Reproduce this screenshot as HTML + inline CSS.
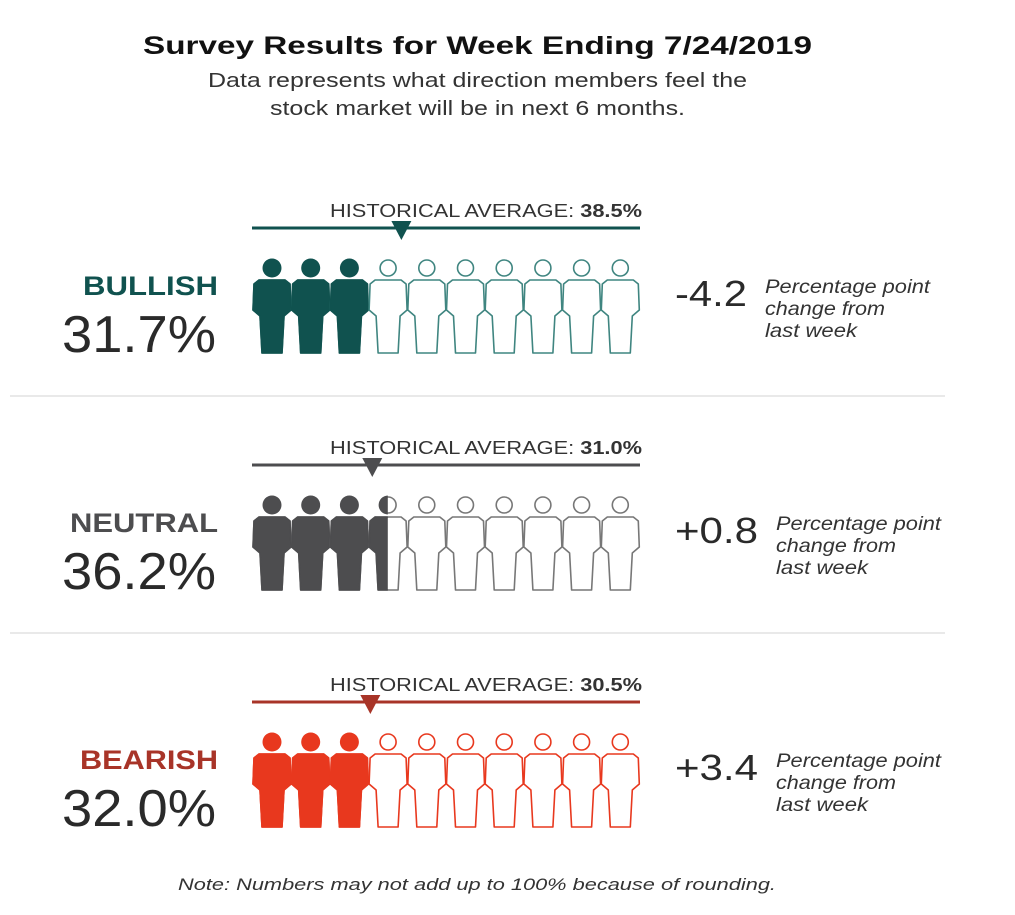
<!DOCTYPE html>
<html><head><meta charset="utf-8"><style>
html,body{margin:0;padding:0;background:#fff;}
svg{display:block;font-family:"Liberation Sans",Arial,sans-serif;}
</style></head><body>
<svg id="chart" width="1015" height="915" viewBox="0 0 1015 915">
<text x="143" y="54" textLength="669" lengthAdjust="spacingAndGlyphs" font-size="25" font-weight="bold" fill="#111">Survey Results for Week Ending 7/24/2019</text>
<text x="208" y="87" textLength="539" lengthAdjust="spacingAndGlyphs" font-size="20" fill="#333">Data represents what direction members feel the</text>
<text x="270" y="115" textLength="415" lengthAdjust="spacingAndGlyphs" font-size="20" fill="#333">stock market will be in next 6 months.</text>
<line x1="10" y1="396" x2="945" y2="396" stroke="#e2e2e2" stroke-width="1.5"/>
<line x1="10" y1="633" x2="945" y2="633" stroke="#e2e2e2" stroke-width="1.5"/>
<text x="178" y="890" textLength="598" lengthAdjust="spacingAndGlyphs" font-size="17" font-style="italic" fill="#333">Note: Numbers may not add up to 100% because of rounding.</text>
<g id="rows"></g>
</svg>
<script>
const categories = ["BULLISH","NEUTRAL","BEARISH"];
const percentValues = [31.7, 36.2, 32.0];
const historicalAverages = [38.5, 31.0, 30.5];
const weeklyChanges = ["-4.2", "+0.8", "+3.4"];
const fillColors = ["#10524f","#4d4d4f","#e8381e"];
const labelColors = ["#10524f","#4d4d4f","#a83428"];
const outlineColors = ["#3f8580","#777","#e8381e"];

const NS="http://www.w3.org/2000/svg";
const root=document.getElementById('rows');
const x0=252, x1=640, figCount=10;
const xScale=v=>x0+(v/100)*(x1-x0);
const labelStart=[83,70,80];
const changeX=[675,675,675];
const changeW=[72,83,83];
const capX=[765,776,776];
const capW=[165,120,92];
function mk(tag,attrs,parent){const e=document.createElementNS(NS,tag);for(const k in attrs)e.setAttribute(k,attrs[k]);(parent||root).appendChild(e);return e;}
function personPath(cx,hy){
  const p=[[-13,12],[13,12],[18,16],[19,42],[12,48],[10,85],[-10,85],[-12,48],[-19,42],[-18,16]];
  return "M"+p.map(q=>(cx+q[0])+","+(hy+q[1])).join(" L")+" Z";
}
categories.forEach((cat,i)=>{
  const oy=i*237;
  const g=mk('g',{});
  
  
  const lbl=mk('text',{x:labelStart[i],y:295+oy,textLength:218-labelStart[i],lengthAdjust:'spacingAndGlyphs','font-size':27,'font-weight':'bold',fill:labelColors[i]},g);
  lbl.textContent=cat;
  
  
  const pct=mk('text',{x:62,y:352+oy,textLength:154,lengthAdjust:'spacingAndGlyphs','font-size':52,fill:'#2a2a2a'},g);
  pct.textContent=percentValues[i].toFixed(1)+'%';
  
  
  const ha=mk('text',{x:330,y:217+oy,textLength:312,lengthAdjust:'spacingAndGlyphs','font-size':18,fill:'#333'},g);
  ha.innerHTML='HISTORICAL AVERAGE: <tspan font-weight="bold">'+historicalAverages[i].toFixed(1)+'%</tspan>';
  
  
  const ln=mk('line',{x1:x0,y1:228+oy,x2:x1,y2:228+oy,stroke:labelColors[i],'stroke-width':3},g);
  
  
  const mx=xScale(historicalAverages[i]);
  const tri=mk('path',{d:`M${mx-10},${221+oy} L${mx+10},${221+oy} L${mx},${240+oy} Z`,fill:labelColors[i]},g);
  
  
  const filled=Math.round(percentValues[i]/10*2)/2;
  const clipId='clip'+i;
  const cp=mk('clipPath',{id:clipId},g);
  mk('rect',{x:x0,y:250+oy,width:xScale(filled*10)-x0,height:120},cp);
  const hy=268+oy;
  for(let k=0;k<figCount;k++){
    const cx=272+k*38.7;
    const fg=mk('g',{},g);
    
    
    mk('circle',{cx:cx,cy:hy,r:8,fill:'#fff',stroke:outlineColors[i],'stroke-width':1.6},fg);
    mk('path',{d:personPath(cx,hy),fill:'#fff',stroke:outlineColors[i],'stroke-width':1.6,'stroke-linejoin':'round'},fg);
    const fill=mk('g',{'clip-path':`url(#${clipId})`},fg);
    mk('circle',{cx:cx,cy:hy,r:9.5,fill:fillColors[i]},fill);
    mk('path',{d:personPath(cx,hy),fill:fillColors[i],stroke:fillColors[i],'stroke-width':1.6,'stroke-linejoin':'round'},fill);
  }
  const ch=mk('text',{x:changeX[i],y:306+oy,textLength:changeW[i],lengthAdjust:'spacingAndGlyphs','font-size':36,fill:'#2a2a2a'},g);
  ch.textContent=weeklyChanges[i];
  
  
  const lines=['Percentage point','change from','last week'];
  const widths=[165,120,92];
  lines.forEach((t,j)=>{
    const tt=mk('text',{x:capX[i],y:293+oy+j*22,textLength:widths[j],lengthAdjust:'spacingAndGlyphs','font-size':19,'font-style':'italic',fill:'#333'},g);
    tt.textContent=t;
    
    
  });
});
</script>
</body></html>
